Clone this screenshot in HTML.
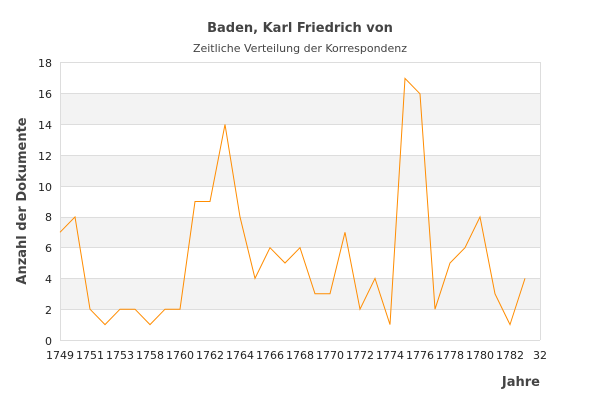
<!DOCTYPE html>
<html><head><meta charset="utf-8"><style>body{margin:0;background:#fff}svg{display:block;font-family:"DejaVu Sans","Liberation Sans",sans-serif}</style></head>
<body>
<svg width="600" height="400" viewBox="0 0 600 400">
<rect width="600" height="400" fill="#fff"/>
<text x="300" y="32" text-anchor="middle" font-size="13" font-weight="bold" fill="#444">Baden, Karl Friedrich von</text>
<text x="300" y="52" text-anchor="middle" font-size="11" fill="#444">Zeitliche Verteilung der Korrespondenz</text>
<g fill="#f3f3f3">
<rect x="60" y="278.4" width="480" height="30.8"/>
<rect x="60" y="216.9" width="480" height="30.8"/>
<rect x="60" y="155.4" width="480" height="30.8"/>
<rect x="60" y="93.8" width="480" height="30.8"/>
</g>
<g stroke="#ddd" stroke-width="1">
<line x1="60" x2="540" y1="62.5" y2="62.5"/><line x1="60" x2="540" y1="93.5" y2="93.5"/><line x1="60" x2="540" y1="124.5" y2="124.5"/><line x1="60" x2="540" y1="155.5" y2="155.5"/><line x1="60" x2="540" y1="186.5" y2="186.5"/><line x1="60" x2="540" y1="217.5" y2="217.5"/><line x1="60" x2="540" y1="247.5" y2="247.5"/><line x1="60" x2="540" y1="278.5" y2="278.5"/><line x1="60" x2="540" y1="309.5" y2="309.5"/><line x1="60" x2="540" y1="340.5" y2="340.5"/>
<line x1="60.5" x2="60.5" y1="62" y2="340"/><line x1="540.5" x2="540.5" y1="62" y2="340"/>
</g>
<g font-size="11" fill="#222" text-anchor="end">
<text x="52" y="67">18</text><text x="52" y="98">16</text><text x="52" y="129">14</text><text x="52" y="160">12</text><text x="52" y="191">10</text><text x="52" y="221">8</text><text x="52" y="252">6</text><text x="52" y="283">4</text><text x="52" y="314">2</text><text x="52" y="345">0</text>
</g>
<g font-size="11" fill="#222" text-anchor="middle">
<text x="60" y="359">1749</text><text x="90" y="359">1751</text><text x="120" y="359">1753</text><text x="150" y="359">1758</text><text x="180" y="359">1760</text><text x="210" y="359">1762</text><text x="240" y="359">1764</text><text x="270" y="359">1766</text><text x="300" y="359">1768</text><text x="330" y="359">1770</text><text x="360" y="359">1772</text><text x="390" y="359">1774</text><text x="420" y="359">1776</text><text x="450" y="359">1778</text><text x="480" y="359">1780</text><text x="510" y="359">1782</text><text x="540" y="359">32</text>
</g>
<text x="540" y="386" text-anchor="end" font-size="13" font-weight="bold" fill="#444">Jahre</text>
<text transform="translate(26,201) rotate(-90)" text-anchor="middle" font-size="13" font-weight="bold" fill="#444">Anzahl der Dokumente</text>
<polyline fill="none" stroke="#ff8c00" stroke-width="1" points="60,232.3 75,216.9 90,309.2 105,324.6 120,309.2 135,309.2 150,324.6 165,309.2 180,309.2 195,201.5 210,201.5 225,124.5 240,216.9 255,278.4 270,247.7 285,263 300,247.7 315,293.8 330,293.8 345,232.3 360,309.2 375,278.4 390,324.6 405,78.4 420,93.8 435,309.2 450,263 465,247.7 480,216.9 495,293.8 510,324.6 525,278.4"/>
</svg>
</body></html>
